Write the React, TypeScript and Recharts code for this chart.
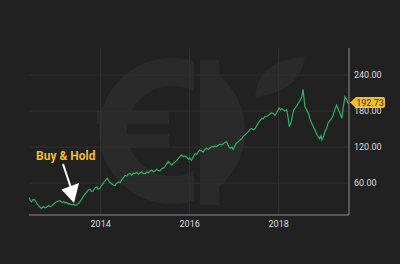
import React from "react";
import {
  LineChart,
  Line,
  XAxis,
  YAxis,
  ReferenceLine,
  ReferenceDot,
} from "recharts";

// decimal years (weekly-ish samples)
const dates = [
  2012.39, 2012.42, 2012.45, 2012.48, 2012.52, 2012.56, 2012.6, 2012.64, 2012.67, 2012.71,
  2012.75, 2012.79, 2012.83, 2012.86, 2012.9, 2012.94, 2012.97, 2013.01, 2013.05, 2013.09,
  2013.13, 2013.17, 2013.2, 2013.24, 2013.28, 2013.31, 2013.35, 2013.39, 2013.42, 2013.46,
  2013.5, 2013.53, 2013.57, 2013.6, 2013.64, 2013.67, 2013.69, 2013.73, 2013.76, 2013.8,
  2013.83, 2013.87, 2013.91, 2013.94, 2013.98, 2014.02, 2014.06, 2014.1, 2014.15, 2014.18,
  2014.21, 2014.25, 2014.29, 2014.32, 2014.36, 2014.4, 2014.44, 2014.47, 2014.51, 2014.55,
  2014.59, 2014.62, 2014.66, 2014.7, 2014.73, 2014.77, 2014.81, 2014.85, 2014.88, 2014.92,
  2014.96, 2015.0, 2015.04, 2015.07, 2015.11, 2015.15, 2015.18, 2015.22, 2015.26, 2015.29,
  2015.33, 2015.37, 2015.41, 2015.44, 2015.48, 2015.52, 2015.56, 2015.6, 2015.63, 2015.67,
  2015.71, 2015.74, 2015.78, 2015.82, 2015.86, 2015.89, 2015.93, 2015.97, 2016.0, 2016.04,
  2016.08, 2016.12, 2016.16, 2016.19, 2016.23, 2016.27, 2016.31, 2016.34, 2016.38, 2016.42,
  2016.46, 2016.5, 2016.53, 2016.57, 2016.61, 2016.64, 2016.68, 2016.72, 2016.76, 2016.8,
  2016.83, 2016.86, 2016.89, 2016.91, 2016.95, 2016.98, 2017.01, 2017.04, 2017.08, 2017.13,
  2017.17, 2017.2, 2017.24, 2017.28, 2017.32, 2017.35, 2017.39, 2017.43, 2017.47, 2017.5,
  2017.54, 2017.58, 2017.62, 2017.65, 2017.69, 2017.73, 2017.77, 2017.8, 2017.84, 2017.88,
  2017.92, 2017.96, 2018.01, 2018.04, 2018.07, 2018.1, 2018.14, 2018.18, 2018.21, 2018.24,
  2018.27, 2018.29, 2018.31, 2018.34, 2018.38, 2018.41, 2018.44, 2018.48, 2018.52, 2018.55,
  2018.57, 2018.59, 2018.63, 2018.67, 2018.7, 2018.74, 2018.78, 2018.82, 2018.86, 2018.89,
  2018.92, 2018.95, 2018.97, 2019.01, 2019.04, 2019.08, 2019.11, 2019.15, 2019.19, 2019.22,
  2019.26, 2019.3, 2019.34, 2019.38, 2019.42, 2019.45, 2019.49, 2019.53, 2019.56,
];

const prices = [
  36, 31, 29, 33, 32, 27, 23, 20, 18, 21,
  19, 20, 23, 21, 22, 25, 27, 29, 30, 31,
  28, 29, 27, 28, 25, 26, 24, 25, 23, 24,
  26, 29, 33, 37, 41, 44, 46, 49, 50, 46,
  47, 52, 54, 50, 51, 56, 60, 64, 68, 64,
  61, 59, 57, 56, 60, 62, 61, 65, 69, 73,
  72, 75, 76, 73, 77, 76, 78, 75, 77, 79,
  76, 76, 79, 77, 80, 82, 79, 80, 83, 81,
  80, 84, 85, 87, 92, 96, 93, 90, 93, 95,
  98, 101, 104, 107, 104, 105, 104, 100, 102, 98,
  104, 109, 108, 112, 115, 113, 112, 116, 118, 116,
  119, 121, 120, 122, 121, 123, 125, 124, 126, 128,
  129, 124, 119, 118, 120, 116, 121, 126, 128, 132,
  134, 138, 140, 143, 146, 149, 151, 149, 151, 155,
  160, 164, 168, 167, 171, 171, 173, 175, 177, 176,
  173, 178, 185, 182, 184, 182, 180, 182, 170, 154,
  160, 165, 173, 182, 186, 189, 193, 198, 204, 216,
  200, 187, 182, 176, 168, 160, 154, 148, 141, 137,
  134, 139, 132, 138, 146, 152, 160, 164, 168, 172,
  182, 190, 183, 176, 168, 186, 204, 199, 192.73,
];

const yearTicks = [2014, 2016, 2018];
const priceTicks = [60, 120, 180, 240];
const lastPrice = "192.73";

const data = dates.map((t, i) => ({ t, price: prices[i] }));

const BG = "#212121";
const MARK = "#2a2a2a";
const GRID = "#313131";
const YELLOW = "#f0bf2e";

function PriceTag(props: any) {
  const { cx, cy } = props;
  const x = cx + 1;
  const y = cy - 1;
  return (
    <g>
      <path
        d={`M${x},${y} L${x + 6},${y - 5.5} L${x + 33},${y - 5.5} Q${x + 35},${y - 5.5} ${x + 35},${y - 3.5} L${x + 35},${y + 3.5} Q${x + 35},${y + 5.5} ${x + 33},${y + 5.5} L${x + 6},${y + 5.5} Z`}
        fill={YELLOW}
      />
      <text
        x={x + 20}
        y={y + 3.2}
        textAnchor="middle"
        fontSize={9}
        fontFamily="Roboto, sans-serif"
        fill="#3a3424"
      >
        {lastPrice}
      </text>
    </g>
  );
}

export default function App() {
  return (
    <div style={{ position: "relative", width: 400, height: 264, background: BG }}>
      <style>{`body{margin:0}`}</style>
      {/* faint logo watermark behind the chart */}
      <svg width={400} height={264} style={{ position: "absolute", left: 0, top: 0 }}>
        <circle cx={172} cy={131} r={59} fill="none" stroke={MARK} strokeWidth={28} />
        <rect x={97} y={111} width={72} height={13} fill={MARK} />
        <rect x={103} y={134} width={66} height={13} fill={MARK} />
        <rect x={194} y={60} width={10} height={145} fill={BG} />
        <rect x={200} y={60} width={19} height={145} fill={MARK} />
        <path d="M255,97 Q258,60 305,57 Q300,92 255,97 Z" fill={MARK} />
      </svg>
      <div style={{ position: "absolute", left: 0, top: 0 }}>
        <LineChart
          width={400}
          height={264}
          data={data}
          margin={{ top: 48, right: 6, left: 29, bottom: 19 }}
        >
          <XAxis
            dataKey="t"
            type="number"
            domain={[2012.39, 2019.58]}
            ticks={yearTicks}
            allowDataOverflow
            height={30}
            axisLine={{ stroke: "#8c8c8c" }}
            tickLine={false}
            tickSize={3}
            tickMargin={3}
            tick={{ fill: "#dcdcdc", fontSize: 9, fontFamily: "Roboto, sans-serif" }}
          />
          <YAxis
            orientation="right"
            type="number"
            domain={[7, 285]}
            ticks={priceTicks}
            allowDataOverflow
            width={45}
            axisLine={{ stroke: "#8c8c8c" }}
            tickLine={false}
            tickSize={3}
            tickMargin={2}
            tickFormatter={(v) => Number(v).toFixed(2)}
            tick={{ fill: "#dcdcdc", fontSize: 9, fontFamily: "Roboto, sans-serif" }}
          />
          {priceTicks.map((v) => (
            <ReferenceLine key={`h${v}`} y={v} stroke={GRID} strokeWidth={1} />
          ))}
          {yearTicks.map((v) => (
            <ReferenceLine key={`v${v}`} x={v} stroke={GRID} strokeWidth={1} />
          ))}
          <Line
            type="linear"
            dataKey="price"
            stroke="#2fb063"
            strokeWidth={1.2}
            dot={false}
            isAnimationActive={false}
          />
          <ReferenceDot
            x={2019.58}
            y={192.73}
            r={0}
            ifOverflow="visible"
            shape={(p: any) => <PriceTag {...p} />}
          />
        </LineChart>
      </div>
      {/* annotation */}
      <svg width={400} height={264} style={{ position: "absolute", left: 0, top: 0, pointerEvents: "none" }}>
        <text
          x={36}
          y={160}
          fontSize={12}
          fontWeight={700}
          fontFamily="Roboto, sans-serif"
          fill={YELLOW}
        >
          Buy &amp; Hold
        </text>
        <line x1={63} y1={164} x2={71} y2={188} stroke="#ffffff" strokeWidth={2} />
        <polygon points="61.5,189.5 79,183 74,203" fill="#ffffff" />
      </svg>
    </div>
  );
}
